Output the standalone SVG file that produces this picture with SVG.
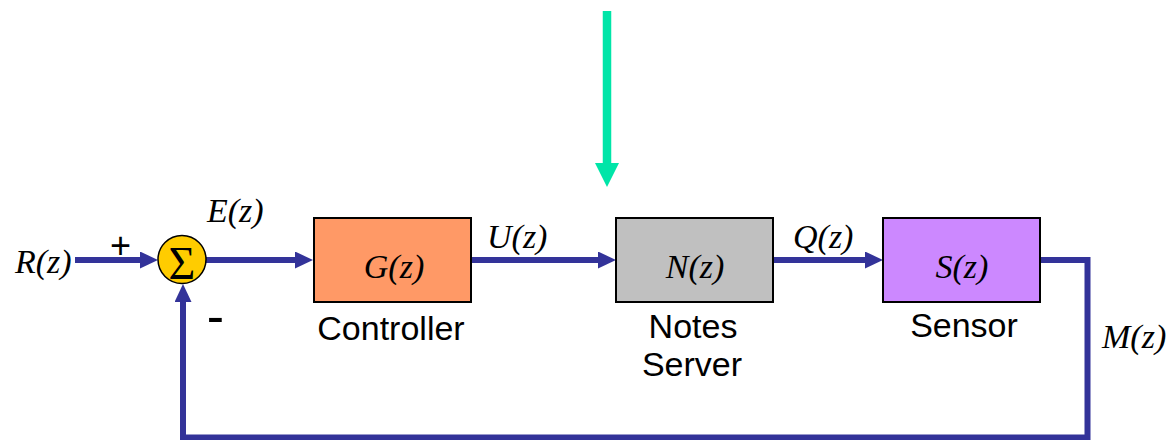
<svg xmlns="http://www.w3.org/2000/svg" width="1167" height="440" viewBox="0 0 1167 440">
<style>
.blk{stroke:#000;stroke-width:2}
.sig{font-family:"Liberation Serif","Times New Roman",serif;font-style:italic;font-size:34px;fill:#000}
.lbl{font-family:"Liberation Sans",Arial,sans-serif;font-size:34px;fill:#000}
.wire{fill:none;stroke:#333399;stroke-width:6}
</style>
<defs>
<marker id="ah" markerUnits="userSpaceOnUse" markerWidth="18" markerHeight="17" refX="1" refY="8.5" orient="auto">
<path d="M0,0 L18,8.5 L0,17 z" fill="#333399"/>
</marker>
<marker id="gh" markerUnits="userSpaceOnUse" markerWidth="24" markerHeight="24" refX="1" refY="12" orient="auto">
<path d="M0,0 L24,12 L0,24 z" fill="#00e5a8"/>
</marker>
</defs>
<g id="connectors">
<path class="wire" d="M75,260 H141" marker-end="url(#ah)"/>
<path class="wire" d="M206,260 H296" marker-end="url(#ah)"/>
<path class="wire" d="M471,260 H599" marker-end="url(#ah)"/>
<path class="wire" d="M773,260 H866" marker-end="url(#ah)"/>
<path class="wire" d="M1040,260 H1087.5 V437.5 H183 V301" marker-end="url(#ah)"/>
<path d="M607,11 V164" fill="none" stroke="#00e5a8" stroke-width="8.5" marker-end="url(#gh)"/>
</g>
<g id="sum">
<circle cx="182" cy="259.5" r="24" fill="#ffcc00" stroke="#000" stroke-width="1.5"/>
<text x="182" y="279" text-anchor="middle" font-family="'Liberation Serif','Times New Roman',serif" font-size="46" fill="#000">Σ</text>
</g>
<g id="controller">
<rect class="blk" x="314" y="218" width="157" height="84" fill="#ff9966"/>
<text class="sig" x="394" y="278" text-anchor="middle">G(z)</text>
<text class="lbl" x="391" y="340" text-anchor="middle">Controller</text>
</g>
<g id="server">
<rect class="blk" x="616" y="218" width="157" height="84" fill="#c0c0c0"/>
<text class="sig" x="695" y="278" text-anchor="middle">N(z)</text>
<text class="lbl" x="693" y="338" text-anchor="middle">Notes</text>
<text class="lbl" x="692" y="376" text-anchor="middle">Server</text>
</g>
<g id="sensor">
<rect class="blk" x="883" y="218" width="157" height="84" fill="#cc88ff"/>
<text class="sig" x="962" y="278" text-anchor="middle">S(z)</text>
<text class="lbl" x="964" y="337" text-anchor="middle">Sensor</text>
</g>
<g id="labels">
<text class="sig" x="15" y="273">R(z)</text>
<text x="120.5" y="257.5" text-anchor="middle" font-family="'Liberation Sans',Arial,sans-serif" font-size="36" fill="#000">+</text>
<text class="sig" x="207" y="222">E(z)</text>
<text class="sig" x="487" y="248">U(z)</text>
<text class="sig" x="793" y="248">Q(z)</text>
<text class="sig" x="1102" y="348">M(z)</text>
<text x="215.5" y="334" text-anchor="middle" font-family="'Liberation Sans',Arial,sans-serif" font-size="52" fill="#000">-</text>
</g>
</svg>
